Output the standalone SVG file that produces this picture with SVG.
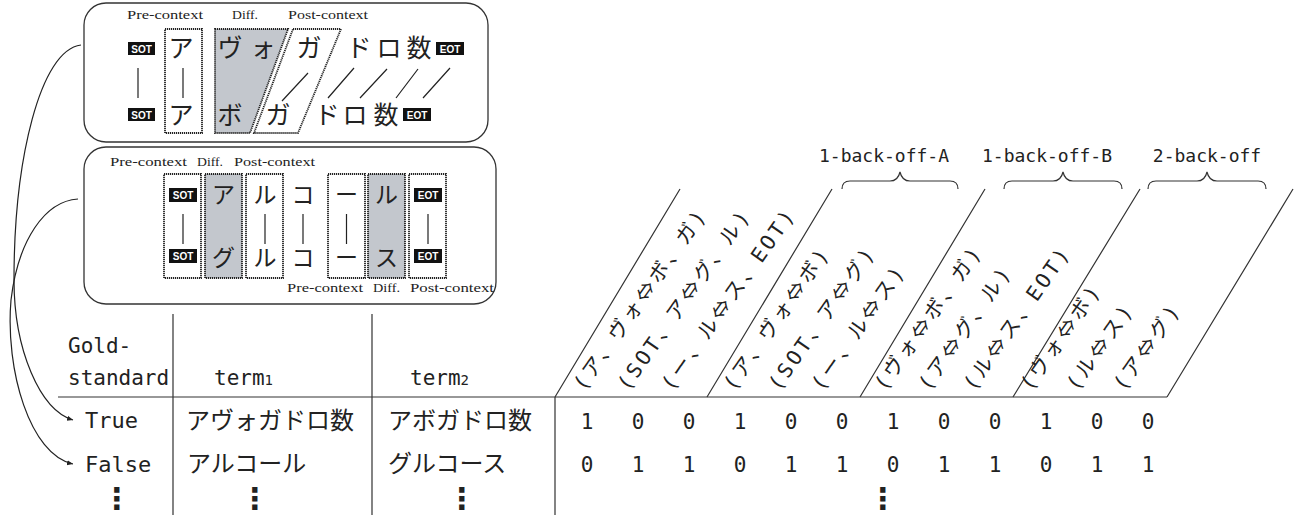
<svg xmlns="http://www.w3.org/2000/svg" width="1306" height="515" viewBox="0 0 1306 515">
<style>
.bg{fill:#fff}
.frame{fill:#fff;stroke:#333;stroke-width:1.3}
.dot{stroke:#222;stroke-width:1.8;stroke-dasharray:1.2 0.8}
.gray{fill:#c3c7cd}
.white{fill:#fff}
.ln{stroke:#222;stroke-width:1.2;fill:none}
.tl{stroke:#333;stroke-width:1.2;fill:none}
.cjk{font-family:"Noto Sans CJK JP","Noto Sans CJK SC",sans-serif;fill:#222;text-anchor:middle}
.c22{font-size:25px}
.c21{font-size:23px}
.ser{font-family:"Liberation Serif",serif;font-size:13px;fill:#222}
.blk{fill:#111}
.tag{font-family:"Liberation Sans",Arial,sans-serif;font-weight:bold;font-size:10px;fill:#fff;text-anchor:middle}
.mono{font-family:"DejaVu Sans Mono","Noto Sans CJK JP",monospace;fill:#222}
.tbl{font-family:"Noto Sans CJK JP",sans-serif;font-size:24px;fill:#222}
.num{font-family:"DejaVu Sans Mono",monospace;font-size:21px;fill:#222;text-anchor:middle}
.rot{font-family:"DejaVu Sans Mono","Noto Sans CJK JP",monospace;font-size:20.5px;letter-spacing:3px;fill:#222}
.ar{font-family:"Noto Sans CJK JP",sans-serif}
.lab{font-family:"DejaVu Sans Mono",monospace;font-size:18px;fill:#222;text-anchor:middle}
.ell{font-family:"DejaVu Sans",sans-serif;font-size:30px;font-weight:bold;fill:#222;text-anchor:middle}
</style>
<defs>
<marker id="ah" markerWidth="8" markerHeight="8" refX="6" refY="3" orient="auto" markerUnits="userSpaceOnUse">
<path d="M0,0.5 L6,3 L0,5.5 Z" fill="#222"/>
</marker>
</defs>
<rect class="bg" x="0" y="0" width="1306" height="515"/>

<g id="box-avogadro">
<rect class="frame" x="84" y="3" width="404" height="139" rx="22" ry="22"/>
<text class="ser" x="127" y="19" textLength="76" lengthAdjust="spacingAndGlyphs">Pre-context</text>
<text class="ser" x="232" y="19" textLength="26" lengthAdjust="spacingAndGlyphs">Diff.</text>
<text class="ser" x="288" y="19" textLength="80" lengthAdjust="spacingAndGlyphs">Post-context</text>
<rect class="white dot" x="165" y="29" width="37" height="104"/>
<polygon class="gray dot" points="215,29 288,29 250,133 215,133"/>
<polygon class="white dot" points="293,29 341,29 298,133 254,133"/>
<rect class="blk" x="128" y="42" width="27" height="13"/>
<text class="tag" x="141.5" y="52.5">SOT</text>
<rect class="blk" x="128" y="108" width="27" height="13"/>
<text class="tag" x="141.5" y="118.5">SOT</text>
<rect class="blk" x="436" y="42" width="28" height="13"/>
<text class="tag" x="450" y="52.5">EOT</text>
<rect class="blk" x="403" y="108" width="28" height="13"/>
<text class="tag" x="417" y="118.5">EOT</text>
<text class="cjk c22" x="181" y="57">ア</text>
<text class="cjk c22" x="230" y="57">ヴ</text>
<text class="cjk c22" x="263" y="57">ォ</text>
<text class="cjk c22" x="309" y="57">ガ</text>
<text class="cjk c22" x="359" y="57">ド</text>
<text class="cjk c22" x="389" y="57">ロ</text>
<text class="cjk c22" x="419" y="57">数</text>
<text class="cjk c22" x="181" y="124">ア</text>
<text class="cjk c22" x="230" y="124">ボ</text>
<text class="cjk c22" x="278" y="124">ガ</text>
<text class="cjk c22" x="327" y="124">ド</text>
<text class="cjk c22" x="355" y="124">ロ</text>
<text class="cjk c22" x="386" y="124">数</text>
<path class="ln" d="M138,68 V98 M183,68 V98 M308,73 L282,101 M354,68 L328,98 M387,69 L360,98 M418,69 L396,98 M450,68 L423,98"/>
</g>

<g id="box-alcohol">
<rect class="frame" x="84" y="147" width="412" height="157" rx="22" ry="22"/>
<text class="ser" x="110" y="166" textLength="77" lengthAdjust="spacingAndGlyphs">Pre-context</text>
<text class="ser" x="197" y="166" textLength="26" lengthAdjust="spacingAndGlyphs">Diff.</text>
<text class="ser" x="234" y="166" textLength="81" lengthAdjust="spacingAndGlyphs">Post-context</text>
<text class="ser" x="287" y="292" textLength="76" lengthAdjust="spacingAndGlyphs">Pre-context</text>
<text class="ser" x="373" y="292" textLength="27" lengthAdjust="spacingAndGlyphs">Diff.</text>
<text class="ser" x="410" y="292" textLength="84" lengthAdjust="spacingAndGlyphs">Post-context</text>
<rect class="white dot" x="164" y="174" width="37" height="104"/>
<rect class="gray dot" x="205" y="174" width="37" height="104"/>
<rect class="white dot" x="246" y="174" width="37" height="104"/>
<rect class="white dot" x="328" y="174" width="37" height="104"/>
<rect class="gray dot" x="368" y="174" width="37" height="104"/>
<rect class="white dot" x="409" y="174" width="37" height="104"/>
<rect class="blk" x="169" y="188" width="28" height="14"/>
<text class="tag" x="183" y="199">SOT</text>
<rect class="blk" x="169" y="249" width="28" height="14"/>
<text class="tag" x="183" y="260">SOT</text>
<rect class="blk" x="414" y="188" width="28" height="14"/>
<text class="tag" x="428" y="199">EOT</text>
<rect class="blk" x="414" y="249" width="28" height="14"/>
<text class="tag" x="428" y="260">EOT</text>
<text class="cjk c21" x="223.5" y="203">ア</text>
<text class="cjk c21" x="265" y="203">ル</text>
<text class="cjk c21" x="303" y="203">コ</text>
<text class="cjk c21" x="346.5" y="203">ー</text>
<text class="cjk c21" x="386.5" y="203">ル</text>
<text class="cjk c21" x="223.5" y="266">グ</text>
<text class="cjk c21" x="265" y="266">ル</text>
<text class="cjk c21" x="303" y="266">コ</text>
<text class="cjk c21" x="346.5" y="266">ー</text>
<text class="cjk c21" x="386.5" y="266">ス</text>
<path class="ln" d="M183,214 V244 M265,214 V244 M303,214 V244 M346.5,214 V244 M428,214 V244"/>
</g>

<g id="connectors">
<path class="ln" marker-end="url(#ah)" d="M81,45 C40,50 14,160 14,280 C14,350 40,410 73,420"/>
<path class="ln" marker-end="url(#ah)" d="M78,199 C45,201 18,240 11,300 C5,370 30,455 73,464"/>
</g>

<g id="table">
<path class="tl" d="M173,314 V515 M372,314 V515 M555,397 V515 M58,397 H1167"/>
<path class="tl" d="M555,397 L680,189 M707,397 L832,189 M860,397 L985,189 M1013,397 L1140,189 M1167,397 L1293,189"/>
<path class="tl" d="M842,189 Q842,181 850,181 L890,181 Q898,181 900,172 Q902,181 910,181 L950,181 Q958,181 958,189"/>
<path class="tl" d="M1004,189 Q1004,181 1012,181 L1053,181 Q1061,181 1063,172 Q1065,181 1073,181 L1114,181 Q1122,181 1122,189"/>
<path class="tl" d="M1148,189 Q1148,181 1156,181 L1197,181 Q1205,181 1207,172 Q1209,181 1217,181 L1258,181 Q1266,181 1266,189"/>
<text class="lab" x="884" y="162">1-back-off-A</text>
<text class="lab" x="1047" y="162">1-back-off-B</text>
<text class="lab" x="1207" y="162">2-back-off</text>

<text class="mono" x="68" y="353" font-size="21">Gold-</text>
<text class="mono" x="68" y="385" font-size="21">standard</text>
<text class="mono" x="214" y="385" font-size="21">term<tspan font-size="14">1</tspan></text>
<text class="mono" x="410" y="385" font-size="21">term<tspan font-size="14">2</tspan></text>
<text class="mono" x="85" y="428" font-size="22">True</text>
<text class="mono" x="85" y="472" font-size="22">False</text>
<text class="tbl" x="186" y="429">アヴォガドロ数</text>
<text class="tbl" x="388" y="429">アボガドロ数</text>
<text class="tbl" x="187" y="472">アルコール</text>
<text class="tbl" x="388" y="472">グルコース</text>

<text class="rot" transform="translate(584,392) rotate(-55)">(ア、ヴォ<tspan class="ar">⇔</tspan>ボ、ガ)</text>
<text class="rot" transform="translate(628,392) rotate(-55)">(SOT、ア<tspan class="ar">⇔</tspan>グ、ル)</text>
<text class="rot" transform="translate(672,392) rotate(-55)">(ー、ル<tspan class="ar">⇔</tspan>ス、EOT)</text>
<text class="rot" transform="translate(734,392) rotate(-55)">(ア、ヴォ<tspan class="ar">⇔</tspan>ボ)</text>
<text class="rot" transform="translate(779,392) rotate(-55)">(SOT、ア<tspan class="ar">⇔</tspan>グ)</text>
<text class="rot" transform="translate(822,392) rotate(-55)">(ー、ル<tspan class="ar">⇔</tspan>ス)</text>
<text class="rot" transform="translate(885,392) rotate(-55)">(ヴォ<tspan class="ar">⇔</tspan>ボ、ガ)</text>
<text class="rot" transform="translate(929,392) rotate(-55)">(ア<tspan class="ar">⇔</tspan>グ、ル)</text>
<text class="rot" transform="translate(974,392) rotate(-55)">(ル<tspan class="ar">⇔</tspan>ス、EOT)</text>
<text class="rot" transform="translate(1031,392) rotate(-55)">(ヴォ<tspan class="ar">⇔</tspan>ボ)</text>
<text class="rot" transform="translate(1077,392) rotate(-55)">(ル<tspan class="ar">⇔</tspan>ス)</text>
<text class="rot" transform="translate(1124,392) rotate(-55)">(ア<tspan class="ar">⇔</tspan>グ)</text>

<text class="num" x="587" y="429">1</text><text class="num" x="638" y="429">0</text><text class="num" x="689" y="429">0</text>
<text class="num" x="740" y="429">1</text><text class="num" x="791" y="429">0</text><text class="num" x="842" y="429">0</text>
<text class="num" x="893" y="429">1</text><text class="num" x="944" y="429">0</text><text class="num" x="995" y="429">0</text>
<text class="num" x="1046" y="429">1</text><text class="num" x="1097" y="429">0</text><text class="num" x="1148" y="429">0</text>
<text class="num" x="587" y="472">0</text><text class="num" x="638" y="472">1</text><text class="num" x="689" y="472">1</text>
<text class="num" x="740" y="472">0</text><text class="num" x="791" y="472">1</text><text class="num" x="842" y="472">1</text>
<text class="num" x="893" y="472">0</text><text class="num" x="944" y="472">1</text><text class="num" x="995" y="472">1</text>
<text class="num" x="1046" y="472">0</text><text class="num" x="1097" y="472">1</text><text class="num" x="1148" y="472">1</text>

<text class="ell" x="117" y="509">⋮</text>
<text class="ell" x="255" y="509">⋮</text>
<text class="ell" x="462" y="509">⋮</text>
<text class="ell" x="883" y="509">⋮</text>
</g>
</svg>
